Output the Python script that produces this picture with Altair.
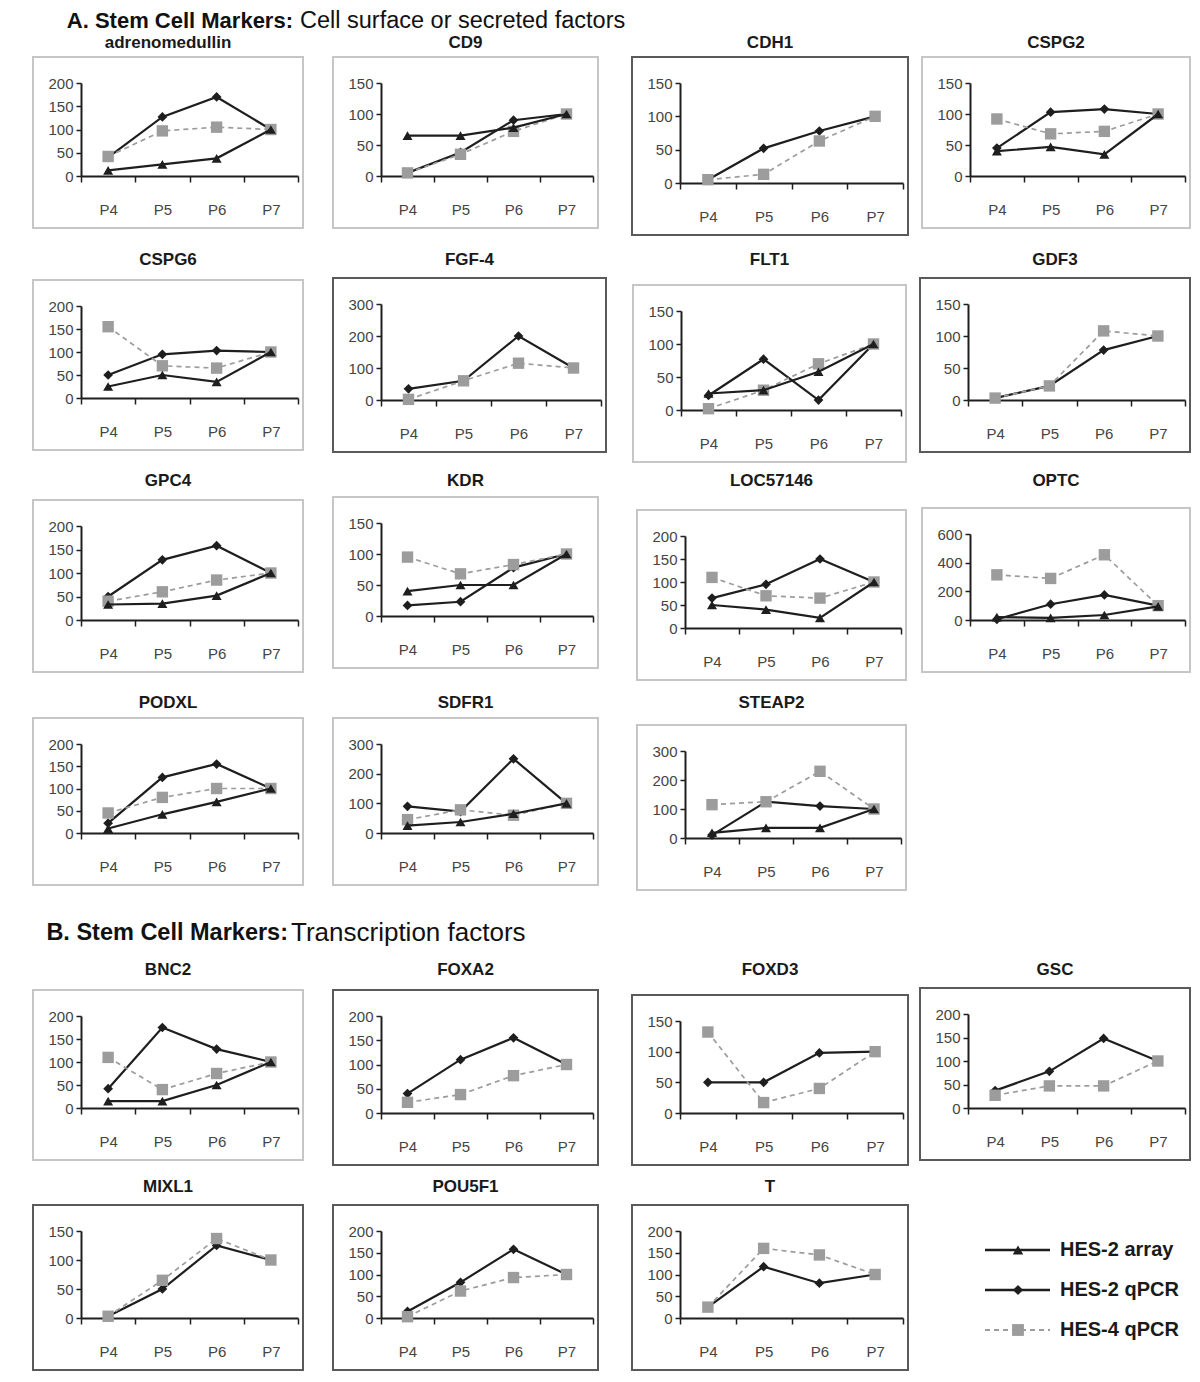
import json
import altair as alt
import pandas as pd

# ---------------- data ----------------
PASSAGES = ["P4", "P5", "P6", "P7"]
SERIES = ["HES-2 array", "HES-2 qPCR", "HES-4 qPCR"]

GENES = ["adrenomedullin", "CD9", "CDH1", "CSPG2",
         "CSPG6", "FGF-4", "FLT1", "GDF3",
         "GPC4", "KDR", "LOC57146", "OPTC",
         "PODXL", "SDFR1", "STEAP2",
         "BNC2", "FOXA2", "FOXD3", "GSC",
         "MIXL1", "POU5F1", "T"]

Y_MAX = [200, 150, 150, 150,
         200, 300, 150, 150,
         200, 150, 200, 600,
         200, 300, 300,
         200, 200, 150, 200,
         150, 200, 200]
Y_STEP = [50, 50, 50, 50,
          50, 100, 50, 50,
          50, 50, 50, 200,
          50, 100, 100,
          50, 50, 50, 50,
          50, 50, 50]

HES2_ARRAY = [
    [12, 25, 38, 100],    # adrenomedullin
    [65, 65, 78, 100],    # CD9
    None,                 # CDH1
    [40, 47, 35, 100],    # CSPG2
    [25, 50, 35, 100],    # CSPG6
    None,                 # FGF-4
    [25, 30, 58, 100],    # FLT1
    None,                 # GDF3
    [33, 35, 52, 100],    # GPC4
    [40, 50, 50, 100],    # KDR
    [50, 40, 22, 100],    # LOC57146
    [20, 15, 35, 95],     # OPTC
    [10, 42, 70, 100],    # PODXL
    [25, 37, 65, 100],    # SDFR1
    [18, 35, 35, 100],    # STEAP2
    [15, 15, 50, 100],    # BNC2
    None, None, None,     # FOXA2, FOXD3, GSC
    None, None, None,     # MIXL1, POU5F1, T
]
HES2_QPCR = [
    [40, 127, 170, 100],
    [5, 38, 90, 100],
    [5, 52, 78, 100],
    [45, 103, 108, 100],
    [50, 95, 103, 100],
    [35, 60, 200, 100],
    [22, 77, 15, 100],
    [3, 22, 78, 100],
    [50, 128, 158, 100],
    [17, 23, 78, 100],
    [65, 95, 150, 100],
    [5, 110, 175, 100],
    [22, 125, 155, 100],
    [90, 72, 250, 100],
    [10, 125, 110, 100],
    [42, 175, 128, 100],
    [40, 110, 155, 100],
    [50, 50, 98, 100],
    [37, 78, 148, 100],
    [3, 50, 125, 100],
    [15, 82, 158, 100],
    [25, 118, 80, 100],
]
HES4_QPCR = [
    [42, 97, 105, 100],
    [5, 35, 72, 100],
    [5, 13, 63, 100],
    [92, 68, 72, 100],
    [155, 70, 65, 100],
    [2, 60, 115, 100],
    [2, 30, 70, 100],
    [3, 22, 108, 100],
    [40, 60, 85, 100],
    [95, 68, 83, 100],
    [110, 70, 65, 100],
    [315, 290, 455, 100],
    [45, 80, 100, 100],
    [45, 78, 60, 100],
    [115, 125, 230, 100],
    [110, 40, 75, 100],
    [22, 38, 77, 100],
    [132, 17, 40, 100],
    [27, 47, 47, 100],
    [3, 65, 137, 100],
    [3, 62, 93, 100],
    [25, 160, 145, 100],
]

HEADER_A = ["A. Stem Cell Markers:", "Cell surface or secreted factors"]
HEADER_B = ["B. Stem Cell Markers:", "Transcription factors"]

# ---------------- layout / style ----------------
FONT = "Liberation Sans"
DARK = "#1e1e1e"
GRAY = "#9c9c9c"
LABEL = "#444444"
LIGHT_BOX = "#c6c6c6"
DARK_BOX = "#5a5a5a"

W, H = 1184, 1364          # single drawing area (fits 1200x1382 page with margins)
OX, OY = 8, 8              # page offset of the drawing area

TITLE_Y = {
    "adrenomedullin": 43, "CD9": 43, "CDH1": 43, "CSPG2": 43,
    "CSPG6": 260, "FGF-4": 260, "FLT1": 260, "GDF3": 260,
    "GPC4": 481, "KDR": 481, "LOC57146": 481, "OPTC": 481,
    "PODXL": 703, "SDFR1": 703, "STEAP2": 703,
    "BNC2": 970, "FOXA2": 970, "FOXD3": 970, "GSC": 970,
    "MIXL1": 1187, "POU5F1": 1187, "T": 1187,
}

# panel frame boxes in page coords: x0, y0, x1, y1, dark frame
BOXES = {
    "adrenomedullin": (33, 57, 303, 228, False),
    "CD9": (333, 57, 598, 228, False),
    "CDH1": (632, 57, 908, 235, True),
    "CSPG2": (922, 57, 1190, 228, False),
    "CSPG6": (33, 280, 303, 450, False),
    "FGF-4": (333, 278, 606, 452, True),
    "FLT1": (633, 285, 906, 462, False),
    "GDF3": (920, 278, 1190, 452, True),
    "GPC4": (33, 500, 303, 672, False),
    "KDR": (333, 497, 598, 668, False),
    "LOC57146": (637, 510, 906, 680, False),
    "OPTC": (922, 508, 1190, 672, False),
    "PODXL": (33, 718, 303, 885, False),
    "SDFR1": (333, 718, 598, 885, False),
    "STEAP2": (637, 725, 906, 890, False),
    "BNC2": (33, 990, 303, 1160, False),
    "FOXA2": (333, 990, 598, 1165, True),
    "FOXD3": (632, 995, 908, 1165, True),
    "GSC": (920, 988, 1190, 1160, True),
    "MIXL1": (33, 1205, 303, 1370, True),
    "POU5F1": (333, 1205, 598, 1370, True),
    "T": (632, 1205, 908, 1370, True),
}

STYLE = {
    "HES-2 array": dict(color=DARK, shape="triangle-up", size=100, dash=None, width=2.2),
    "HES-2 qPCR": dict(color=DARK, shape="diamond", size=95, dash=None, width=2.2),
    "HES-4 qPCR": dict(color=GRAY, shape="square", size=130, dash=[5, 4], width=1.7),
}
DRAW_ORDER = ["HES-2 qPCR", "HES-4 qPCR", "HES-2 array"]

# ---------------- long table ----------------
records = []
for g, a, q2, q4 in zip(GENES, HES2_ARRAY, HES2_QPCR, HES4_QPCR):
    for s, vals in zip(SERIES, (a, q2, q4)):
        if vals is None:
            continue
        for i, (p, v) in enumerate(zip(PASSAGES, vals)):
            records.append({"gene": g, "series": s, "passage": p,
                            "pos": i + 0.5, "value": v})
df = pd.DataFrame(records)

# category labels sit between tick marks: label at tick k (k>=1) shifted back half a step
label_expr = "datum.value >= 1 ? " + json.dumps(PASSAGES) + "[datum.value - 1] : ''"


def panel(g):
    x0, y0, x1, y1, dark = BOXES[g]
    bx0, bx1 = x0 - OX, x1 - OX
    by0, by1 = y0 - OY, y1 - OY
    xl, xr = bx0 + 48, bx1 - 5
    yz, yt = by1 - 52, by0 + 26
    idx = GENES.index(g)
    ymax, step = Y_MAX[idx], Y_STEP[idx]
    cw = (xr - xl) / 4.0

    x_enc = alt.X(
        "pos:Q",
        scale=alt.Scale(domain=[0, 4], range=[xl, xr], nice=False, zero=False),
        axis=alt.Axis(values=[0, 1, 2, 3, 4], orient="bottom", offset=yz - H,
                      title=None, grid=False, domainColor=DARK, domainWidth=2,
                      tickColor=DARK, tickWidth=1.5, tickSize=6,
                      labelExpr=label_expr, labelOffset=-cw / 2, labelPadding=20,
                      labelFont=FONT, labelFontSize=15, labelColor=LABEL,
                      labelFlush=False, labelOverlap=False),
    )
    y_enc = alt.Y(
        "value:Q",
        scale=alt.Scale(domain=[0, ymax], range=[yz, yt], nice=False),
        axis=alt.Axis(values=list(range(0, ymax + 1, step)), orient="left",
                      offset=-xl, title=None, grid=False, domainColor=DARK,
                      domainWidth=2, tickColor=DARK, tickWidth=1.5, tickSize=5,
                      labelPadding=3, labelFont=FONT, labelFontSize=15,
                      labelColor=LABEL, labelFlush=False, labelOverlap=False),
    )

    one = alt.Data(values=[{"gene": g}])
    frame = alt.Chart(one).mark_rect(
        fillOpacity=0, stroke=DARK_BOX if dark else LIGHT_BOX, strokeWidth=2
    ).encode(x=alt.value(bx0), x2=alt.value(bx1), y=alt.value(by0), y2=alt.value(by1))
    title = alt.Chart(one).mark_text(
        font=FONT, fontSize=17, fontWeight="bold", color="#1a1a1a",
        align="center", baseline="middle"
    ).encode(x=alt.value((bx0 + bx1) / 2), y=alt.value(TITLE_Y[g] - OY), text="gene:N")

    layers = [frame, title]
    present = set(df[df.gene == g].series)
    for s in DRAW_ORDER:
        if s not in present:
            continue
        st = STYLE[s]
        base = alt.Chart(df).transform_filter(
            (alt.datum.gene == g) & (alt.datum.series == s))
        line_kw = dict(color=st["color"], strokeWidth=st["width"])
        if st["dash"]:
            line_kw["strokeDash"] = st["dash"]
        layers.append(base.mark_line(**line_kw).encode(x=x_enc, y=y_enc))
        layers.append(base.mark_point(filled=True, opacity=1, shape=st["shape"],
                                      size=st["size"], color=st["color"])
                      .encode(x=x_enc, y=y_enc))
    return alt.layer(*layers)


def legend_block():
    data = alt.Data(values=[{"series": s} for s in SERIES])
    y_enc = alt.Y("series:N", scale=alt.Scale(type="point", domain=SERIES,
                                               range=[1250 - OY, 1330 - OY], padding=0),
                  axis=None)
    layers = []
    for s in SERIES:
        st = STYLE[s]
        base = alt.Chart(data).transform_filter(alt.datum.series == s)
        kw = dict(color=st["color"], strokeWidth=st["width"] + 0.3)
        if st["dash"]:
            kw["strokeDash"] = st["dash"]
        layers.append(base.mark_rule(**kw).encode(
            x=alt.value(985 - OX), x2=alt.value(1050 - OX), y=y_enc))
        layers.append(base.mark_point(filled=True, opacity=1, shape=st["shape"],
                                      size=st["size"] + 10, color=st["color"])
                      .encode(x=alt.value(1018 - OX), y=y_enc))
        layers.append(base.mark_text(font=FONT, fontSize=20, fontWeight="bold",
                                     color="#1a1a1a", align="left", baseline="middle")
                      .encode(x=alt.value(1060 - OX), y=y_enc, text="series:N"))
    return alt.layer(*layers)


def header(parts, cy, bold_end, reg_start, bsize, rsize):
    data = alt.Data(values=[{"b": parts[0], "r": parts[1]}])
    b = alt.Chart(data).mark_text(font=FONT, fontSize=bsize, fontWeight="bold",
                                  color="#111111", align="right", baseline="middle"
                                  ).encode(x=alt.value(bold_end - OX), y=alt.value(cy - OY),
                                           text="b:N")
    r = alt.Chart(data).mark_text(font=FONT, fontSize=rsize, fontWeight="normal",
                                  color="#111111", align="left", baseline="middle"
                                  ).encode(x=alt.value(reg_start - OX), y=alt.value(cy - OY),
                                           text="r:N")
    return alt.layer(b, r)


children = [header(HEADER_A, 21, 293, 300, 22, 23.5),
            header(HEADER_B, 933, 288, 291, 23.5, 26)]
children += [panel(g) for g in GENES]
children.append(legend_block())

chart = alt.layer(*children).resolve_scale(
    x="independent", y="independent"
).resolve_axis(
    x="independent", y="independent"
).properties(
    width=W, height=H,
    padding={"left": 0, "top": 0, "right": 0, "bottom": 0}
).configure_view(stroke="transparent")

chart.save("out.html", embed_options={"renderer": "svg", "actions": False})
